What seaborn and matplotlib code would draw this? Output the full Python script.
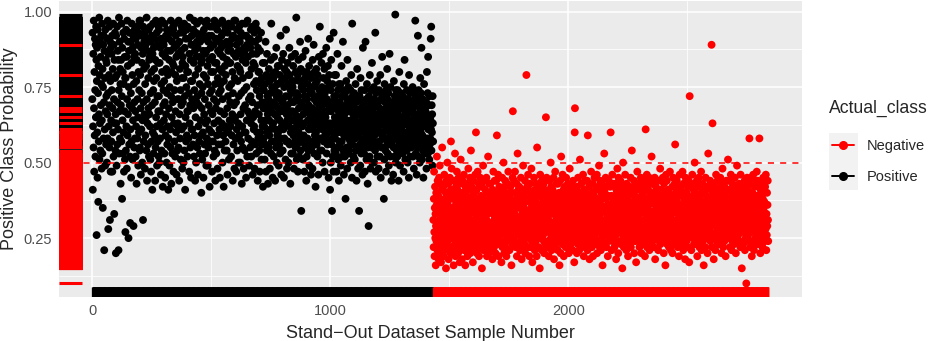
import numpy as np
import pandas as pd
import matplotlib.pyplot as plt
from matplotlib.lines import Line2D
from matplotlib.patches import Rectangle
import seaborn as sns

# predicted probability (in %) for each stand-out sample
# positives: samples 0..1432
positive_pct = """
71 93 41 62 86 55 97 68 47 80 59 91 74 52 89 65 95 84 26 77
88 60 45 94 73 37 82 57 66 98 51 79 63 90 54 85 69 92 76 48
64 96 53 81 35 75 89 58 92 70 21 87 61 78 49 94 67 84 56 72
83 50 91 66 58 97 73 28 86 62 79 95 55 69 31 90 77 47 88 64
57 86 74 92 47 68 81 60 96 52 89 71 33 84 63 93 78 54 66 20
92 63 49 79 95 56 70 87 61 84 21 74 98 53 67 90 58 81 76 43
69 84 57 96 72 38 88 64 80 53 93 60 76 47 91 67 85 51 78 27
78 54 94 62 85 48 71 97 59 82 66 90 25 75 87 56 93 69 52 30
61 90 73 45 83 57 96 68 79 51 88 64 92 29 76 85 55 70 94 58
86 67 52 91 62 77 43 84 95 58 71 89 65 49 80 93 60 74 97 54
55 79 97 68 46 88 61 92 73 83 50 64 86 31 95 70 57 81 90 66
93 48 76 59 89 65 82 54 98 71 44 87 63 91 56 78 68 94 52 84
66 85 62 95 51 73 90 47 80 57 92 69 41 86 60 96 74 53 88 77
81 59 91 70 44 84 55 97 65 78 62 93 49 72 89 57 83 67 95 52
72 94 50 83 67 58 88 63 46 91 76 54 97 80 61 86 42 90 69 74
89 64 77 53 96 70 45 85 59 92 66 81 50 94 73 56 87 62 79 41
58 91 68 84 49 75 93 61 87 55 97 72 43 80 65 90 53 83 70 95
94 47 82 63 88 57 74 96 52 79 67 92 60 85 46 77 89 54 71 62
63 86 55 97 71 44 90 66 81 58 93 74 51 87 69 95 61 78 48 83
85 70 93 50 78 62 96 54 88 72 41 82 65 91 57 75 94 59 80 67
52 95 67 80 58 91 73 47 86 63 98 69 55 84 77 45 89 61 92 71
77 61 89 56 94 68 83 52 97 74 59 87 44 79 65 93 50 85 70 90
96 55 72 88 46 81 62 92 69 57 85 76 53 90 64 97 59 83 40 73
68 84 51 93 75 60 87 45 79 94 66 56 91 71 53 86 63 96 78 49
87 58 97 64 82 49 76 90 55 69 92 61 84 42 73 95 57 88 67 80
60 92 74 47 85 66 95 57 80 52 89 71 63 97 54 83 76 44 91 68
91 53 83 70 59 94 48 78 87 64 56 96 73 81 61 90 45 86 67 76
74 88 56 92 63 80 97 50 71 85 59 93 42 77 66 89 54 82 95 62
57 79 95 61 90 54 84 68 46 93 72 87 60 96 51 75 83 64 89 70
83 62 87 52 76 95 59 91 66 80 44 73 92 56 86 69 97 48 78 64
65 97 58 85 70 47 89 61 94 54 82 77 91 63 50 87 72 95 59 81
90 50 80 66 93 57 73 86 43 96 62 84 55 78 92 68 48 88 74 60
54 87 69 96 60 83 45 92 75 64 89 52 97 67 85 58 79 91 71 49
79 66 91 55 88 72 94 63 52 81 57 95 70 86 46 90 65 83 61 76
62 93 48 82 67 90 56 96 77 53 86 74 60 94 69 44 88 58 80 91
66 80 54 72 47 87 60 76 58 93 64 51 78 56 70 62 83 42 74 68
58 74 62 83 51 68 76 56 90 64 47 79 70 54 86 60 72 66 43 78
71 55 81 64 59 77 48 68 73 61 84 53 96 67 57 75 63 79 45 69
63 78 52 70 85 57 66 74 44 80 61 69 55 88 72 50 76 59 65 82
76 60 68 49 73 82 56 64 79 53 71 92 58 67 46 77 62 84 54 70
54 71 86 61 67 45 75 58 81 69 63 78 51 72 94 57 66 80 48 64
69 83 57 76 50 65 72 62 88 56 79 67 43 74 60 70 53 85 64 77
61 67 75 53 82 59 70 48 77 64 73 57 86 66 55 80 71 98 62 51
73 56 64 79 47 72 84 60 68 52 77 65 58 90 70 54 81 63 34 75
57 77 69 62 85 51 66 74 59 80 63 47 72 56 78 68 87 55 71 44
67 52 80 71 58 76 64 91 54 69 61 82 49 74 66 57 79 62 73 46
78 64 55 73 68 48 84 61 75 57 89 66 53 71 80 59 67 76 42 63
60 81 70 56 77 63 52 79 65 72 46 68 85 58 74 62 95 54 66 71
72 58 66 83 54 75 61 69 50 86 64 78 57 70 62 81 47 73 59 67
65 74 59 88 62 53 71 77 56 67 82 60 75 45 69 79 63 57 91 41
62 74 50 67 84 56 70 34 63 58 76 52 68 47 93 60 72 54 79 65
58 68 72 53 79 62 47 65 70 55 86 60 74 51 63 67 44 76 57 69
70 55 63 76 49 67 60 82 57 72 52 65 61 90 68 54 74 46 59 64
66 52 73 59 38 69 62 77 55 64 71 48 84 60 67 53 75 58 63 70
54 71 61 67 57 74 50 64 79 62 68 45 96 56 72 59 66 52 70 63
73 60 68 51 65 58 76 62 54 70 44 67 59 81 63 55 72 48 66 61
59 34 66 72 56 63 49 78 61 68 53 74 64 57 70 46 62 88 55 67
65 70 53 60 74 47 67 58 90 62 56 71 51 64 76 59 68 43 63 55
61 29 72 57 66 52 79 63 69 48 60 74 55 67 62 83 50 70 58 65
68 57 63 75 50 71 59 65 54 93 62 47 73 66 56 69 61 77 52 64
56 66 70 48 62 74 57 68 52 64 79 60 45 71 63 55 67 59 85 73
63 72 55 67 60 38 65 51 76 58 70 62 54 68 47 74 61 66 57 81
71 53 64 58 73 62 49 69 56 86 60 67 52 75 63 57 70 44 65 59
57 65 68 62 46 70 55 77 60 64 52 72 58 99 66 50 74 61 69 54
66 60 52 74 58 67 63 44 71 56 80 62 68 49 65 59 73 54 61 70
62 70 57 65 53 72 60 68 47 76 55 63 84 58 66 51 71 64 59 67
69 54 74 60 66 50 63 57 71 62 45 79 56 68 64 73 52 67 59 61
55 67 61 70 57 64 75 52 68 59 73 48 65 62 56 71 60 97 66 53
64 58 69 46 72 61 55 66 92 60 52 74 63 57 70 65 50 68 78 62
60 73 56 88 63 51 67 59 71 54 65 45 69 62 76 57 64 53 70 66
67 55 62 70 48 66 80 58 64 73 53 85 61 57 69 63 51 72 56 65
58 64 91 61 95 54 69 60 66 49 72 63 57
"""

# negatives: samples 1433..2840
negative_pct = """
31 22 38 47 27 19 35 42 25 33 16 29 40 24 36 52 28 21 44 30
26 39 18 34 45 23 31 49 20 37 28 43 17 33 25 41 30 55 22 36
35 27 42 19 32 24 46 29 38 21 34 26 40 15 31 44 23 37 28 50
24 36 30 43 18 33 27 39 22 45 29 35 20 41 57 26 32 48 25 38
33 21 40 28 35 16 44 31 26 38 23 53 30 19 36 42 27 34 24 47
29 41 25 37 20 32 45 22 39 28 34 17 43 26 31 51 24 36 30 40
18 35 27 44 31 23 38 29 46 21 33 40 25 36 16 42 28 34 22 39
37 26 32 19 43 30 24 48 35 28 41 22 33 27 45 20 38 31 54 25
30 42 23 36 28 39 17 34 44 26 31 21 40 29 37 24 46 33 27 60
25 33 41 20 35 29 47 23 38 31 26 43 19 36 28 32 22 45 34 27
39 24 30 37 15 42 28 34 25 49 32 21 38 27 44 30 23 35 41 26
28 36 22 45 31 19 40 27 33 24 52 30 37 20 34 43 25 29 38 23
43 27 34 21 39 30 25 36 18 41 29 33 47 24 37 22 31 44 26 35
32 20 38 28 44 25 35 59 30 23 40 27 46 33 19 36 29 42 24 31
26 37 23 41 30 34 17 39 28 45 22 33 27 38 31 50 24 36 20 42
35 29 44 22 32 26 40 19 37 31 24 43 28 34 21 47 33 27 39 25
21 38 30 25 42 33 27 36 16 40 29 34 23 45 67 31 26 37 28 44
36 24 33 47 28 40 22 31 38 26 43 19 35 29 53 23 37 30 41 27
30 42 26 35 21 39 32 24 45 28 36 18 41 33 25 38 29 49 22 34
27 35 40 23 31 44 20 37 29 34 25 79 32 26 42 30 38 22 46 33
41 28 33 19 37 25 43 30 22 39 27 35 48 24 32 40 17 36 29 31
23 38 30 45 26 34 21 41 32 28 37 24 43 31 19 36 55 27 39 25
34 29 42 22 36 27 39 15 33 46 28 40 25 35 30 21 44 32 26 38
39 26 31 43 24 37 20 35 28 41 33 23 38 65 30 27 45 22 36 29
28 35 24 40 31 19 36 27 44 33 22 38 29 50 25 42 34 21 37 30
33 41 27 36 23 45 30 18 39 26 34 29 47 22 37 31 24 43 28 35
25 32 38 21 43 29 35 24 40 31 16 37 27 44 33 20 39 52 26 36
37 23 30 46 28 34 25 41 19 36 32 27 42 24 38 30 22 35 45 29
30 39 22 34 27 43 31 25 37 20 40 33 28 48 24 36 29 41 23 32
42 26 35 29 38 21 33 44 27 31 24 39 17 36 60 68 30 25 41 34
24 37 31 20 42 28 36 23 45 33 26 39 30 21 38 27 51 34 29 40
35 28 43 25 32 39 22 37 30 46 24 34 19 41 29 36 26 44 31 27
29 40 23 36 31 26 44 33 21 59 38 27 35 24 42 30 18 37 28 34
38 25 32 47 27 35 22 40 30 28 43 19 36 33 25 39 31 45 23 37
26 34 41 29 37 23 31 46 20 38 27 35 30 42 24 33 49 28 36 22
33 44 27 36 21 40 29 34 25 43 31 16 38 28 35 23 41 30 53 26
40 23 35 31 45 27 38 22 33 29 42 26 36 19 39 32 24 44 30 34
27 36 30 42 25 60 33 28 39 21 35 31 46 24 37 29 43 26 32 38
31 22 39 28 34 43 26 37 18 41 30 35 24 48 29 38 33 20 45 27
36 29 24 40 32 27 44 35 23 38 30 42 28 34 15 39 26 50 31 37
22 41 33 27 38 30 46 24 36 29 34 21 43 32 26 40 28 37 19 35
39 28 35 23 42 31 25 37 29 45 22 33 40 27 54 30 36 24 41 32
30 37 26 44 20 34 39 28 32 24 43 35 17 38 29 41 31 47 25 36
43 25 31 38 27 35 22 41 33 29 36 24 45 30 20 39 34 27 42 28
34 29 40 23 37 31 44 26 35 19 42 28 61 33 25 38 30 46 22 36
27 38 32 41 24 36 29 45 21 34 39 26 31 43 28 37 23 52 33 30
37 24 43 30 28 40 34 22 38 26 45 31 18 36 29 42 33 25 39 27
29 35 26 39 33 21 44 31 37 24 41 28 34 48 23 36 30 40 27 32
41 30 36 25 45 29 33 38 20 43 27 35 31 24 39 16 37 28 46 34
32 44 23 37 28 34 41 26 30 36 22 40 33 29 47 25 38 31 21 35
24 33 39 29 42 20 36 31 45 27 35 23 38 30 43 26 56 34 28 40
38 27 31 44 25 37 30 22 41 33 28 39 19 35 32 46 24 36 29 42
30 41 26 35 23 39 33 47 28 36 21 43 31 25 38 34 27 40 18 32
45 28 37 32 24 40 29 35 22 42 30 36 26 44 31 17 38 72 33 27
26 36 30 43 21 38 34 27 46 31 25 39 33 28 41 23 37 29 50 35
35 23 40 29 37 32 26 44 30 19 42 34 28 38 24 45 31 36 22 39
31 39 25 36 28 47 33 21 40 27 35 30 43 24 37 29 16 41 32 26
40 27 34 22 45 30 37 25 39 33 28 42 20 36 31 53 26 38 29 35
28 37 31 44 24 35 27 41 33 89 30 22 39 63 26 43 32 36 18 40
36 25 42 30 38 21 34 29 46 32 27 40 35 23 44 31 37 26 33 28
23 41 33 27 39 31 45 24 36 29 43 20 38 34 26 48 30 35 22 42
39 29 36 24 42 32 27 40 19 35 31 44 28 37 25 33 41 30 51 26
32 44 25 38 30 35 22 41 34 27 46 29 36 21 39 31 24 43 33 37
27 34 40 29 23 37 31 45 26 38 33 20 42 30 36 28 49 25 35 41
41 26 32 37 28 43 24 35 30 39 22 46 33 27 38 31 15 40 29 34
30 38 23 42 34 27 36 29 44 21 40 32 25 37 31 10 39 28 45 33
35 29 41 26 37 32 24 43 58 30 38 22 36 28 45 33 27 40 19 34
24 40 33 28 46 35 30 21 38 27 42 31 36 25 44 29 34 39 23 47
37 31 26 44 29 39 23 35 32 42 58 27 36 30 20 41 33 25 38 28
29 43 35 22 38 31 45 27 34 40 26 37 30 24 42 33 28 46 36 21
33 26 40 29 36 44 31 24
"""

positive_prob = [int(v) / 100 for v in positive_pct.split()]
negative_prob = [int(v) / 100 for v in negative_pct.split()]

class_order = ["Negative", "Positive"]
class_colors = {"Negative": "#FF0000", "Positive": "#000000"}
x_ticks = [0, 1000, 2000]
y_ticks = [0.25, 0.50, 0.75, 1.00]

prob = positive_prob + negative_prob
df = pd.DataFrame({
    "sample": np.arange(len(prob)),
    "prob": prob,
    "Actual_class": ["Positive"] * len(positive_prob) + ["Negative"] * len(negative_prob),
})

sns.set_style("darkgrid", {"axes.facecolor": "#EBEBEB", "grid.color": "white"})
plt.rcParams["font.family"] = ["Liberation Sans", "DejaVu Sans"]

fig, ax = plt.subplots(figsize=(9.41, 3.41), dpi=100)
fig.subplots_adjust(left=59 / 941, right=802 / 941, bottom=1 - 297 / 341, top=1 - 1 / 341)

sns.scatterplot(data=df, x="sample", y="prob", hue="Actual_class", hue_order=class_order,
                palette=class_colors, s=32, linewidth=0, legend=False, ax=ax, zorder=2)

# threshold line drawn over the points
ax.axhline(0.5, color="red", lw=1.1, ls=(0, (4, 4)), zorder=3)

# rugs on the left and bottom edges
sns.rugplot(data=df, y="prob", hue="Actual_class", hue_order=class_order, palette=class_colors,
            height=0.031, linewidth=2.2, expand_margins=False, legend=False, ax=ax, zorder=4)
sns.rugplot(data=df, x="sample", hue="Actual_class", hue_order=class_order, palette=class_colors,
            height=0.033, linewidth=1, expand_margins=False, legend=False, ax=ax, zorder=4)

ax.set_xlim(-140, 2982)
ax.set_ylim(0.055, 1.035)
ax.set_xticks(x_ticks)
ax.set_xticks([500, 1500, 2500], minor=True)
ax.set_yticks(y_ticks)
ax.set_yticks([0.125, 0.375, 0.625, 0.875], minor=True)
ax.set_yticklabels([f"{v:.2f}" for v in y_ticks])
ax.grid(which="major", color="white", lw=1.1)
ax.grid(which="minor", color="white", lw=0.55)
ax.tick_params(which="major", length=2.6, width=0.8, color="#333333", labelsize=10.5,
               labelcolor="#4D4D4D", pad=2.2)
ax.tick_params(which="minor", length=0)
for sp in ax.spines.values():
    sp.set_visible(False)

ax.set_xlabel("Stand\u2212Out Dataset Sample Number", fontsize=13, labelpad=5)
ax.set_ylabel("Positive Class Probability", fontsize=13, labelpad=4)

# legend with grey key boxes like ggplot
fig.add_artist(Rectangle((829 / 941, 1 - 190 / 341), 29 / 941, 57 / 341,
                         transform=fig.transFigure, facecolor="#F2F2F2", edgecolor="none", zorder=0))
fig.text(829 / 941, 1 - 108 / 341, "Actual_class", fontsize=12.7, ha="left", va="center")
handles = [Line2D([0], [0], color=class_colors[c], marker="o", markersize=5.5, lw=1.4, label=c)
           for c in class_order]
fig.legend(handles=handles, loc="center left", bbox_to_anchor=(832 / 941, 1 - 161.5 / 341),
           frameon=False, fontsize=10.5, handlelength=1.5, handletextpad=0.85,
           labelspacing=1.15, borderpad=0, borderaxespad=0)

fig.savefig("out.png", dpi=100)
